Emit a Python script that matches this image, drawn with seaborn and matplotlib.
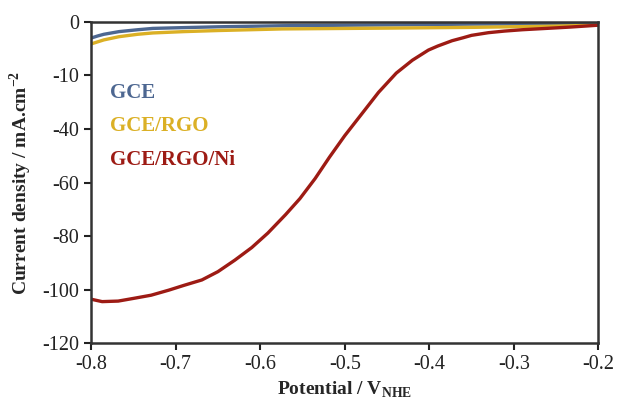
import matplotlib
matplotlib.use("Agg")
import matplotlib.pyplot as plt
import seaborn as sns
import pandas as pd

# potentials (V vs NHE) and current density, in plotted axis units
gce_x = [-0.800, -0.792, -0.785, -0.767, -0.745, -0.727, -0.690, -0.650, -0.574, -0.450, -0.346, -0.250, -0.200]
gce_y = [-6.0, -5.2, -4.6, -3.6, -2.9, -2.4, -2.1, -1.8, -1.4, -1.1, -0.8, -0.7, -0.6]

rgo_x = [-0.800, -0.792, -0.785, -0.767, -0.745, -0.727, -0.690, -0.650, -0.574, -0.450, -0.346, -0.260, -0.200]
rgo_y = [-8.2, -7.4, -6.7, -5.5, -4.6, -4.1, -3.6, -3.2, -2.6, -2.3, -2.0, -1.6, -1.2]

ni_x = [-0.800, -0.787, -0.768, -0.750, -0.729, -0.708, -0.690, -0.669, -0.650,
        -0.630, -0.610, -0.591, -0.570, -0.553, -0.535, -0.518, -0.500, -0.478,
        -0.460, -0.439, -0.420, -0.401, -0.390, -0.373, -0.360, -0.350, -0.330,
        -0.311, -0.290, -0.273, -0.250, -0.233, -0.200]
ni_y = [-103.6, -104.5, -104.3, -103.3, -102.1, -100.2, -98.4, -96.4, -93.3,
        -89.0, -84.3, -78.9, -72.0, -66.0, -58.5, -50.5, -42.5, -33.6,
        -26.3, -19.1, -14.3, -10.5, -9.0, -7.0, -5.9, -5.0, -4.0,
        -3.4, -2.9, -2.6, -2.2, -1.9, -1.2]

yticks = [0, -20, -40, -60, -80, -100, -120]
ytick_labels = ["0", "-10", "-40", "-60", "-80", "-100", "-120"]
xticks = [-0.8, -0.7, -0.6, -0.5, -0.4, -0.3, -0.2]

names = ["GCE", "GCE/RGO", "GCE/RGO/Ni"]
colors = ["#4d6791", "#dbb025", "#9d1b14"]

sns.set_style("ticks")
plt.rcParams["font.family"] = ["Liberation Serif", "DejaVu Serif"]

df = pd.concat([
    pd.DataFrame({"x": gce_x, "y": gce_y, "s": names[0]}),
    pd.DataFrame({"x": rgo_x, "y": rgo_y, "s": names[1]}),
    pd.DataFrame({"x": ni_x, "y": ni_y, "s": names[2]}),
])

fig = plt.figure(figsize=(6.2, 4.07), dpi=100)
ax = fig.add_axes([0.147, 0.157, 0.818, 0.789])
sns.lineplot(data=df, x="x", y="y", hue="s", palette=colors, linewidth=2.4,
             legend=False, sort=False, ax=ax)

ax.set_xlim(-0.8, -0.2)
ax.set_ylim(-120, 0)
ax.set_xticks(xticks)
ax.set_xticklabels([f"{v:.1f}" for v in xticks])
ax.set_yticks(yticks)
ax.set_yticklabels(ytick_labels)
ax.tick_params(direction="out", length=5, width=1.5, labelsize=14.5, colors="#222222")
for sp in ax.spines.values():
    sp.set_linewidth(1.8)
    sp.set_color("#333333")

ax.set_xlabel(r"Potential / V$_{\mathregular{NHE}}$", fontsize=14, fontweight="bold",
              labelpad=4)
ax.set_ylabel(r"Current density / mA.cm$^{\mathregular{-2}}$", fontsize=14,
              fontweight="bold", labelpad=6)

for i, (n, c) in enumerate(zip(names, colors)):
    ax.text(0.038, 0.78 - i * 0.105, n, transform=ax.transAxes, color=c,
            fontsize=15, fontweight="bold", va="center")

fig.savefig("out.png", dpi=100)
